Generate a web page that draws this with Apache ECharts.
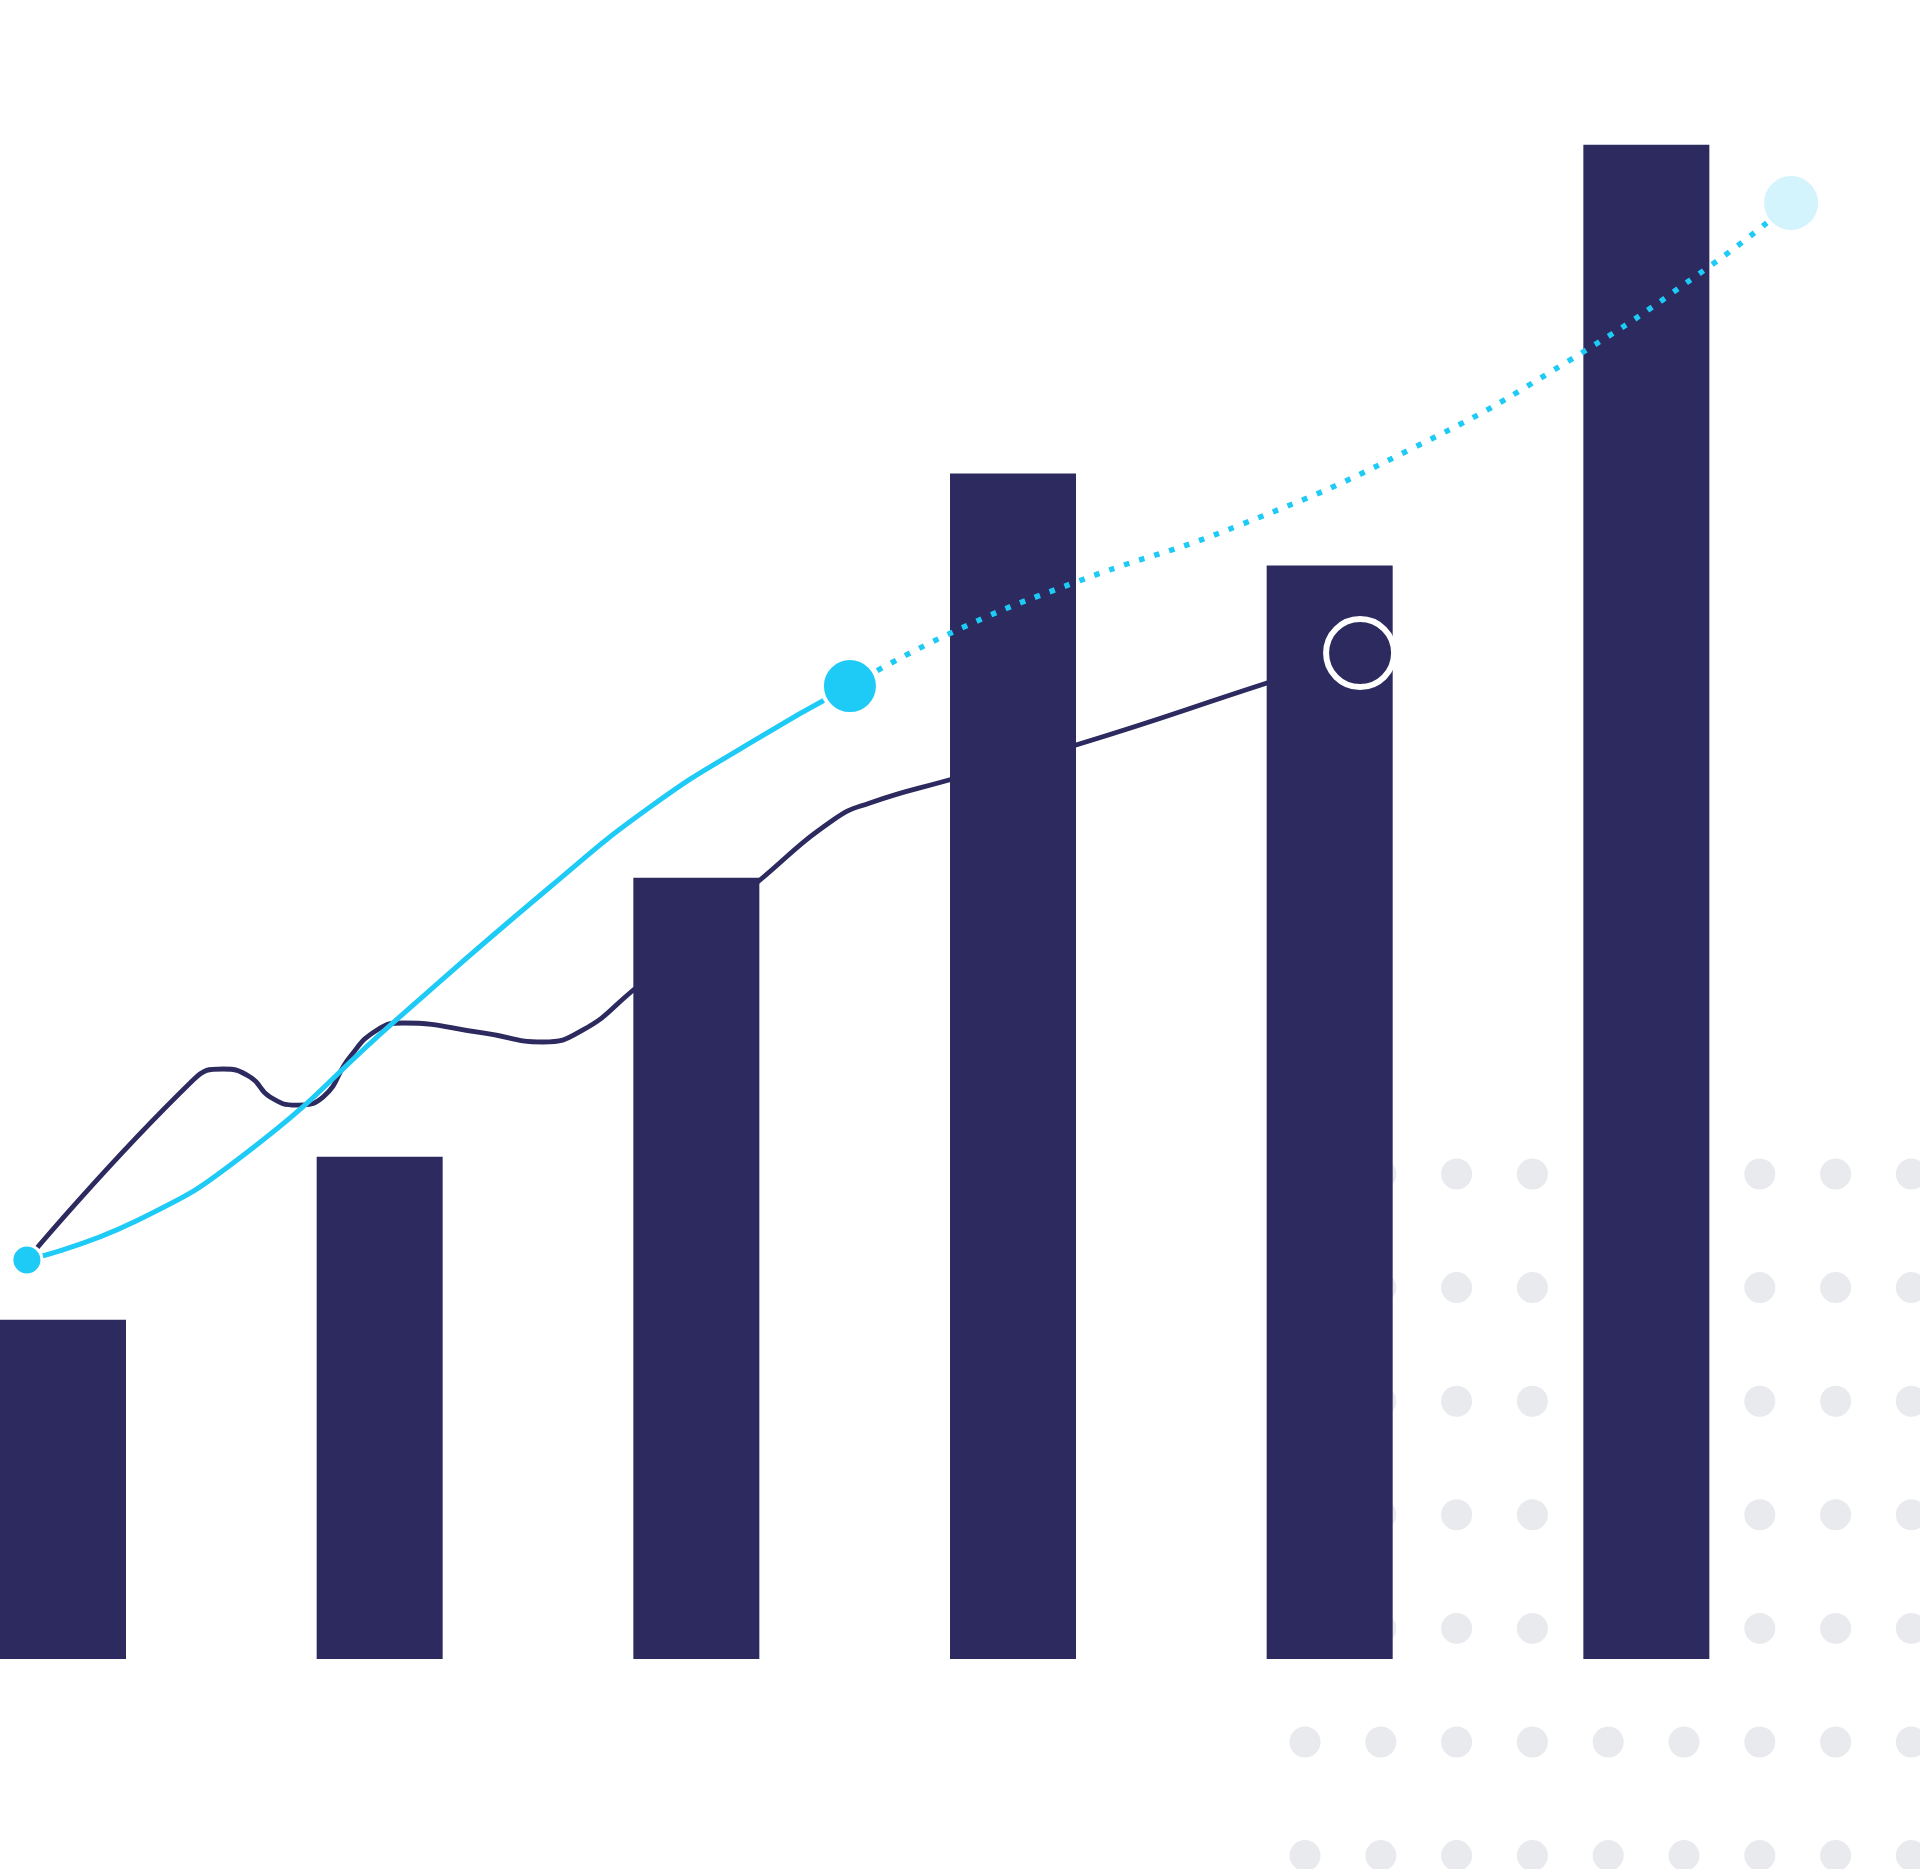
<!DOCTYPE html>
<html><head><meta charset="utf-8">
<script src="https://cdn.jsdelivr.net/npm/echarts@6/dist/echarts.min.js"></script>
<style>html,body{margin:0;padding:0;background:#fff}#c{width:1920px;height:1869px}</style>
</head><body><div id="c"></div>
<script>
// Category positions (index) and bar values (y units 0..110)
const categories = [0, 1, 2, 3, 4, 5];
const barValues = [22.5, 33.3, 51.8, 78.6, 72.5, 100.4];

// Dark trend line (x in category-index units)
const trendX = [-0.114, 0.411, 0.505, 0.591, 0.654, 0.739, 0.821, 0.906, 0.992, 1.074, 1.326, 1.516, 1.642, 1.790, 2.201, 2.432, 2.548, 2.798, 3.199, 3.802, 4.096];
const trendY = [26.46, 38.39, 39.12, 38.59, 37.26, 36.73, 37.26, 39.92, 41.71, 42.17, 41.51, 40.91, 41.71, 44.16, 51.65, 55.63, 56.76, 58.28, 60.60, 64.71, 66.70];

// Cyan actual (solid) line
const actualX = [-0.114, 0.224, 0.591, 1.048, 1.538, 1.854, 2.169, 2.485];
const actualY = [26.46, 28.97, 33.75, 42.30, 51.19, 56.49, 60.73, 64.51];

// Cyan forecast (dotted) line
const forecastX = [2.485, 2.804, 3.199, 3.717, 4.263, 4.749, 5.201, 5.457];
const forecastY = [64.51, 68.03, 71.41, 75.19, 80.29, 86.00, 92.36, 96.54];

// Decorative dot grid
const dotCols = [0, 1, 2, 3, 4, 5, 6, 7, 8];
const dotRows = [0, 1, 2, 3, 4, 5, 6];

const NAVY = '#2C2A5F';
const CYAN = '#1ECBF6';
const LIGHT = '#D3F4FC';
const DOT = '#E8EAEE';

const zip = (xs, ys) => xs.map((x, i) => [x, ys[i]]);
const dotData = [];
dotRows.forEach(r => dotCols.forEach(c => dotData.push([c, r])));

const X_MIN = -0.19895, X_MAX = 5.86415;
const hidden = { show: false };
const chart = echarts.init(document.getElementById('c'), null, { renderer: 'canvas' });
chart.setOption({
  animation: false,
  backgroundColor: '#ffffff',
  grid: [
    { left: 0, top: 0, width: 1920, height: 1659 },
    { left: 1305, top: 1174, width: 606.4, height: 681.6 }
  ],
  xAxis: [
    { type: 'value', gridIndex: 0, min: X_MIN, max: X_MAX, axisLine: hidden, axisTick: hidden, axisLabel: hidden, splitLine: hidden },
    { type: 'value', gridIndex: 1, min: 0, max: 8, axisLine: hidden, axisTick: hidden, axisLabel: hidden, splitLine: hidden }
  ],
  yAxis: [
    { type: 'value', gridIndex: 0, min: 0, max: 110, axisLine: hidden, axisTick: hidden, axisLabel: hidden, splitLine: hidden },
    { type: 'value', gridIndex: 1, min: 0, max: 6, inverse: true, axisLine: hidden, axisTick: hidden, axisLabel: hidden, splitLine: hidden }
  ],
  series: [
    {
      type: 'scatter', xAxisIndex: 1, yAxisIndex: 1, z: 0, silent: true, clip: false,
      symbol: 'circle', symbolSize: 31, itemStyle: { color: DOT, opacity: 1 },
      data: dotData
    },
    {
      type: 'line', xAxisIndex: 0, yAxisIndex: 0, z: 1, silent: true,
      smooth: 0.5, showSymbol: false, symbol: 'none',
      lineStyle: { color: NAVY, width: 4.8 },
      data: zip(trendX, trendY)
    },
    {
      type: 'bar', xAxisIndex: 0, yAxisIndex: 0, z: 2, silent: true,
      barWidth: 126, itemStyle: { color: NAVY },
      data: zip(categories, barValues)
    },
    {
      type: 'line', xAxisIndex: 0, yAxisIndex: 0, z: 3, silent: true,
      smooth: 0.5, showSymbol: false, symbol: 'none',
      lineStyle: { color: CYAN, width: 5 },
      data: zip(actualX, actualY)
    },
    {
      type: 'line', xAxisIndex: 0, yAxisIndex: 0, z: 3, silent: true,
      smooth: 0.5, showSymbol: false, symbol: 'none',
      lineStyle: { color: CYAN, width: 5.5, type: [5.5, 10.3], cap: 'butt' },
      data: zip(forecastX, forecastY)
    },
    {
      type: 'scatter', xAxisIndex: 0, yAxisIndex: 0, z: 5, silent: true, clip: false,
      data: [
        { value: [actualX[0], actualY[0]], symbolSize: 30, itemStyle: { color: CYAN, borderColor: '#fff', borderWidth: 3, opacity: 1 } },
        { value: [actualX[actualX.length - 1], actualY[actualY.length - 1]], symbolSize: 56, itemStyle: { color: CYAN, borderColor: '#fff', borderWidth: 4, opacity: 1 } },
        { value: [forecastX[forecastX.length - 1], forecastY[forecastY.length - 1]], symbolSize: 58, itemStyle: { color: LIGHT, borderColor: '#fff', borderWidth: 4, opacity: 1 } },
        { value: [trendX[trendX.length - 1], trendY[trendY.length - 1]], symbolSize: 68, itemStyle: { color: NAVY, borderColor: '#fff', borderWidth: 6, opacity: 1 } }
      ]
    }
  ]
});
</script>
</body></html>
